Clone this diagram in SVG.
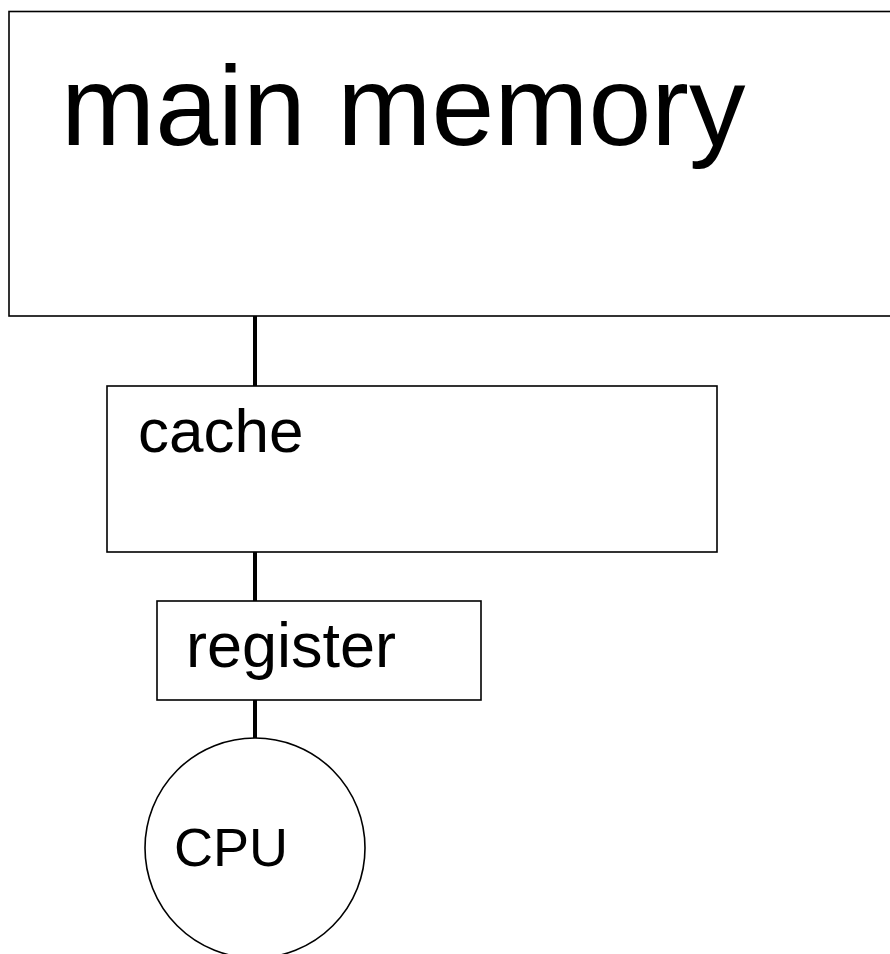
<svg xmlns="http://www.w3.org/2000/svg" width="890" height="954" viewBox="0 0 890 954">
  <style>
    .box { fill: #fff; stroke: #000; stroke-width: 1.6; }
    .wire { stroke: #000; stroke-width: 4; fill: none; }
    .label { font-family: "Liberation Sans", Arial, sans-serif; fill: #000; }
  </style>
  <rect width="890" height="954" fill="#fff"/>

  <!-- links between the memory levels -->
  <g id="connectors">
    <line class="wire" x1="255" y1="316" x2="255" y2="386"/>
    <line class="wire" x1="255" y1="552" x2="255" y2="601"/>
    <line class="wire" x1="255" y1="700" x2="255" y2="738"/>
  </g>

  <g id="main-memory">
    <rect class="box" x="9" y="11.5" width="900" height="304.5"/>
    <text class="label" x="61" y="145" font-size="113">main memory</text>
  </g>

  <g id="cache">
    <rect class="box" x="107" y="386" width="610" height="166"/>
    <text class="label" x="138" y="452" font-size="62">cache</text>
  </g>

  <g id="register">
    <rect class="box" x="157" y="601" width="324" height="99"/>
    <text class="label" x="186" y="667" font-size="63">register</text>
  </g>

  <g id="cpu">
    <circle class="box" cx="255" cy="848" r="110"/>
    <text class="label" x="174" y="866" font-size="54">CPU</text>
  </g>
</svg>
